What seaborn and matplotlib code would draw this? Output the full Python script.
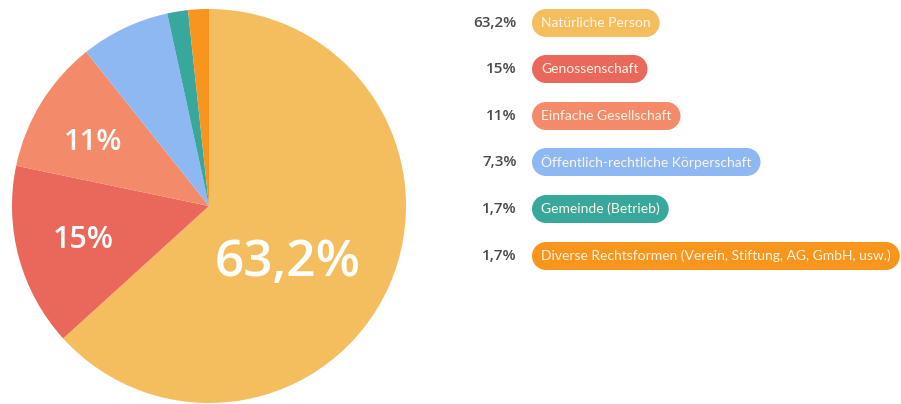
import matplotlib
matplotlib.use("Agg")
import matplotlib.pyplot as plt
from matplotlib.patches import Ellipse, Rectangle
import numpy as np
import seaborn as sns

# Rechtsformen der Betriebe (Anteile in %)
categories = [
    "Natürliche Person",
    "Genossenschaft",
    "Einfache Gesellschaft",
    "Öffentlich-rechtliche Körperschaft",
    "Gemeinde (Betrieb)",
    "Diverse Rechtsformen (Verein, Stiftung, AG, GmbH, usw.)",
]
shares = [63.2, 15, 11, 7.3, 1.7, 1.7]
share_labels = ["63,2%", "15%", "11%", "7,3%", "1,7%", "1,7%"]
colors = ["#F4BE5F", "#E9685B", "#F38A6A", "#8DB8F1", "#38A89D", "#F7951D"]

sns.set_theme(style="white")
plt.rcParams["font.family"] = ["Lato", "DejaVu Sans"]

W, H = 901, 404
fig = plt.figure(figsize=(W / 100, H / 100), dpi=100)
fig.patch.set_facecolor("white")

# Pie: centre (209, 206) px from top-left, radius 197 px
cx, cy, r = 209, 206, 197
ax = fig.add_axes([(cx - r) / W, (H - cy - r) / H, 2 * r / W, 2 * r / H])
wedges, _ = ax.pie(shares, colors=colors, startangle=90, counterclock=False,
                   wedgeprops=dict(linewidth=0))
ax.set_xlim(-1, 1)
ax.set_ylim(-1, 1)
ax.set_aspect("equal")
ax.axis("off")

# Value labels inside the three largest wedges
label_style = {0: (0.49, -12, 37), 1: (0.66, 0, 22), 2: (0.67, 3, 21)}
for i, (dist, dang, size) in label_style.items():
    w = wedges[i]
    ang = np.deg2rad((w.theta1 + w.theta2) / 2 + dang)
    ax.text(dist * np.cos(ang), dist * np.sin(ang), share_labels[i],
            ha="center", va="center", color="white", fontsize=size,
            fontweight="semibold", family=["Open Sans", "DejaVu Sans"])

# Legend: percentage + pill-shaped category label
row_y = [23, 69, 116, 162, 209, 256]
pill_x, pill_h, pad, pill_right = 532, 28, 9, 900
renderer = fig.canvas.get_renderer()

# size the label font so the longest label fills its pill
probe = fig.text(0, 0, max(categories, key=len), fontsize=10)
w10 = probe.get_window_extent(renderer).width
probe.remove()
label_size = 10 * (pill_right - pill_x - 2 * pad) / w10

for y, lab, pct, col in zip(row_y, categories, share_labels, colors):
    fy = 1 - y / H
    fig.text(517 / W, fy, pct, ha="right", va="center", color="#4A4A4A",
             fontsize=11, fontweight="semibold", family=["Open Sans", "DejaVu Sans"])
    t = fig.text((pill_x + pad) / W, fy, lab, ha="left", va="center",
                 color="#FFF5E6", fontsize=label_size, zorder=3)
    bb = t.get_window_extent(renderer)
    right = bb.x1 + pad
    # pill body and rounded ends
    fig.patches.append(Rectangle(((pill_x + pill_h / 2) / W, (H - y - pill_h / 2) / H),
                                 (right - pill_x - pill_h) / W, pill_h / H,
                                 transform=fig.transFigure, facecolor=col,
                                 edgecolor="none", zorder=2))
    for ex in (pill_x + pill_h / 2, right - pill_h / 2):
        fig.patches.append(Ellipse((ex / W, fy), pill_h / W, pill_h / H,
                                   transform=fig.transFigure, facecolor=col,
                                   edgecolor="none", zorder=2))

fig.savefig("out.png", dpi=100, facecolor="white")
